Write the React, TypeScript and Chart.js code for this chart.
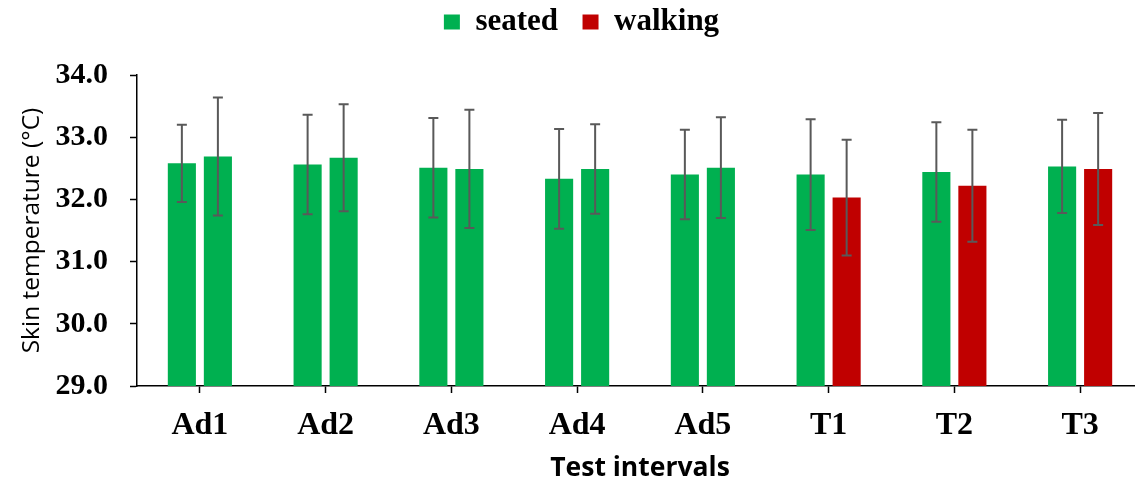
import React, { useEffect, useRef } from "react";
import { Chart, registerables } from "chart.js";

Chart.register(...registerables);

const categories = ["Ad1", "Ad2", "Ad3", "Ad4", "Ad5", "T1", "T2", "T3"];
const seatedValues = [32.58, 32.56, 32.51, 32.33, 32.4, 32.4, 32.44, 32.53];
const seatedErrors = [0.62, 0.8, 0.8, 0.8, 0.72, 0.89, 0.8, 0.75];
const walkingValues = [32.69, 32.67, 32.49, 32.49, 32.51, 32.03, 32.22, 32.49];
const walkingErrors = [0.95, 0.86, 0.95, 0.72, 0.81, 0.93, 0.9, 0.9];
const yTickValues = [29, 30, 31, 32, 33, 34];

const GREEN = "#00B050";
const RED = "#C00000";
const walkingColors = categories.map((c) => (c.startsWith("T") ? RED : GREEN));

const errorBarPlugin = {
  id: "errorBars",
  afterDatasetsDraw(chart: any) {
    const ctx = chart.ctx;
    const yScale = chart.scales.y;
    const errs = [seatedErrors, walkingErrors];
    chart.data.datasets.forEach((ds: any, di: number) => {
      const meta = chart.getDatasetMeta(di);
      meta.data.forEach((bar: any, i: number) => {
        const v = ds.data[i];
        const e = errs[di][i];
        const x = bar.x;
        const yt = yScale.getPixelForValue(v + e);
        const yb = yScale.getPixelForValue(v - e);
        ctx.save();
        ctx.strokeStyle = "#595959";
        ctx.lineWidth = 2;
        ctx.beginPath();
        ctx.moveTo(x, yt);
        ctx.lineTo(x, yb);
        ctx.moveTo(x - 5, yt);
        ctx.lineTo(x + 5, yt);
        ctx.moveTo(x - 5, yb);
        ctx.lineTo(x + 5, yb);
        ctx.stroke();
        ctx.restore();
      });
    });
  },
};

// Reserve a fixed band for the legend and nudge its drawing position.
const legendPlacementPlugin = {
  id: "legendPlacement",
  beforeInit(chart: any) {
    const legend = chart.legend;
    if (!legend) return;
    const origFit = legend.fit;
    legend.fit = function () {
      origFit.call(this);
      this.height = 75;
    };
  },
  afterLayout(chart: any) {
    const legend = chart.legend;
    if (!legend) return;
    legend.top -= 18;
    legend.bottom -= 18;
    legend.left += 10;
    legend.right += 10;
  },
};

export default function App() {
  const ref = useRef<HTMLCanvasElement>(null);
  useEffect(() => {
    if (!ref.current) return;
    const chart = new Chart(ref.current, {
      type: "bar",
      data: {
        labels: categories,
        datasets: [
          {
            label: "seated",
            data: seatedValues,
            backgroundColor: GREEN,
            categoryPercentage: 0.573,
            barPercentage: 0.78,
          },
          {
            label: "walking",
            data: walkingValues,
            backgroundColor: walkingColors,
            categoryPercentage: 0.573,
            barPercentage: 0.78,
          },
        ],
      },
      options: {
        responsive: false,
        animation: false,
        devicePixelRatio: 1,
        layout: { padding: { top: 0, left: 0, right: 0, bottom: 0 } },
        plugins: {
          tooltip: { enabled: false },
          legend: {
            position: "top",
            labels: {
              boxWidth: 16,
              boxHeight: 15,
              padding: 24.5,
              color: "#000",
              font: { family: "Liberation Serif", size: 31, weight: "bold" },
              generateLabels: (ch: any) => {
                const items = Chart.defaults.plugins.legend.labels.generateLabels(ch);
                items.forEach((it: any, idx: number) => {
                  const c = idx === 0 ? GREEN : RED;
                  it.fillStyle = c;
                  it.strokeStyle = c;
                  it.lineWidth = 0;
                });
                return items;
              },
            },
          },
        },
        scales: {
          x: {
            grid: {
              offset: false,
              drawOnChartArea: false,
              drawTicks: true,
              tickLength: 7,
              tickColor: "#000",
              tickWidth: 1.5,
            },
            border: { display: true, color: "#000", width: 1.5 },
            ticks: {
              color: "#000",
              padding: 14,
              font: { family: "Liberation Serif", size: 32, weight: "bold" },
            },
            title: {
              display: true,
              text: "Test intervals",
              color: "#000",
              font: { family: "Open Sans", size: 26.5, weight: "bold" },
              padding: { top: 0, bottom: 3 },
            },
            afterFit: (scale: any) => {
              scale.height = 101;
            },
          },
          y: {
            min: 29,
            max: 34,
            afterBuildTicks: (scale: any) => {
              scale.ticks = yTickValues.map((v) => ({ value: v }));
            },
            grid: {
              drawOnChartArea: false,
              drawTicks: true,
              tickLength: 7,
              tickColor: "#000",
              tickWidth: 1.5,
            },
            border: { display: true, color: "#000", width: 1.5 },
            ticks: {
              color: "#000",
              padding: 22,
              font: { family: "Liberation Serif", size: 30, weight: "bold" },
              callback: (v: any) => Number(v).toFixed(1),
            },
            title: {
              display: true,
              text: "Skin temperature (°C)",
              color: "#000",
              font: { family: "Open Sans", size: 24.5, weight: "normal" },
              padding: { top: 17, bottom: 0 },
            },
            afterFit: (scale: any) => {
              scale.width = 137;
            },
          },
        },
      },
      plugins: [errorBarPlugin, legendPlacementPlugin],
    });
    return () => chart.destroy();
  }, []);
  return (
    <div
      style={{
        position: "fixed",
        left: 0,
        top: 0,
        width: 1135,
        height: 487,
        overflow: "hidden",
        background: "#fff",
      }}
    >
      <canvas ref={ref} width={1143} height={487} style={{ display: "block" }} />
    </div>
  );
}
